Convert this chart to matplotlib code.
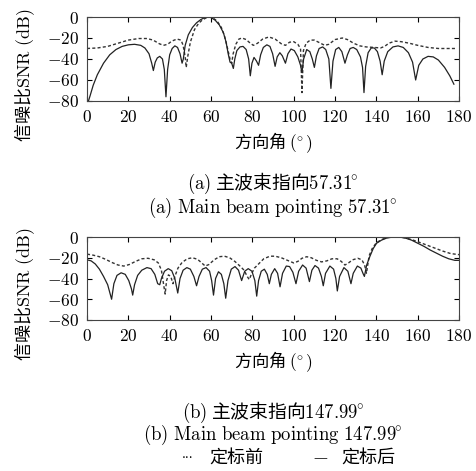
import matplotlib
matplotlib.use("Agg")
import matplotlib.pyplot as plt
from matplotlib.ticker import FuncFormatter

plt.rcParams.update({"font.family": ["DejaVu Serif", "Noto Sans CJK SC"],
                     "mathtext.fontset": "cm", "font.size": 11,
                     "xtick.direction": "in", "ytick.direction": "in",
                     "xtick.top": True, "ytick.right": True,
                     "xtick.major.size": 3.5, "ytick.major.size": 3.5,
                     "axes.linewidth": 0.8})
CJK = "Noto Sans CJK SC"

# ---- (a) main beam 57.31 deg: after calibration (solid) / before (dashed)
a_after_x = [0.7, 1.5, 3, 5, 8, 11, 14, 17, 20, 23, 26, 28, 30, 31.3, 32.1, 33, 34, 35.2, 36.5,
             37.4, 38.2, 39, 40, 41.2, 42.5, 43.8, 45, 46, 46.6, 47.5, 49, 51, 53, 55, 57, 58.5,
             60, 62, 64, 66, 67.3, 68.3, 69.2, 70, 70.8, 71.5, 72.5, 74, 75.5, 77, 78.2, 79, 79.8,
             80.8, 82, 83, 84, 85.3, 87, 88.5, 89.8, 91, 92, 93.3, 94.5, 96, 97.2, 98.7, 100.3,
             102, 103.3, 104, 104.8, 106.3, 107.8, 109, 110, 111, 112.3, 114, 115.5, 117, 118,
             119, 120.3, 121.8, 123.3, 124.8, 126, 127.3, 128.8, 130.5, 132.3, 133.3, 134, 134.8,
             136, 137.5, 139, 140.5, 141.8, 142.8, 143.8, 145.5, 148, 150.5, 153, 155.5, 157.5,
             159, 160.5, 162.5, 165, 167.5, 170, 173, 175.5, 177.5]
a_after_y = [-80, -75, -65, -55, -44, -36, -31, -28, -26.5, -26, -27, -29.5, -35, -44, -51, -43, -39,
             -37.5, -40, -50, -76, -50, -36, -30, -27.5, -29, -35, -44, -40, -27, -17, -10, -5.5,
             -2.5, -0.5, 0, -0.5, -3, -7.5, -15, -24, -35, -43, -44, -49, -40, -32, -28.5, -28,
             -31, -40, -56, -44, -38.5, -42, -46, -36, -29, -26.5, -28, -35, -47, -38, -34, -37,
             -44, -35, -30.5, -32, -38, -46, -53, -40, -31, -33, -40, -48, -37, -30, -28.5, -31,
             -40, -68, -42, -31, -29, -33, -44, -36, -30, -29, -31, -38, -48, -72, -47, -34,
             -29.5, -29.5, -33, -42, -55, -42, -33, -28.5, -27.5, -29, -34, -43, -60, -46, -40,
             -37.5, -38, -41, -48, -56, -64]
a_before_x = [0, 5, 10, 15, 20, 25, 29, 32, 35, 37, 39, 41, 43.5, 45.5, 46.5, 47.5, 48, 48.7, 50, 52,
              54, 56, 58, 59.5, 61, 63, 65, 66.5, 68, 69.3, 70, 70.7, 72, 73.5, 75, 77, 79, 80.5,
              82.5, 85, 88, 91, 94, 96, 98, 100, 102, 103.3, 104, 104.7, 106, 108, 110, 112, 115,
              117, 120, 123.5, 126, 129, 132, 135, 139, 142, 144, 146, 149, 152, 156, 160, 165,
              170, 175, 179]
a_before_y = [-30, -29.5, -28, -25, -22, -20.5, -20.5, -22, -25.5, -27, -26, -23, -21, -22, -27, -38,
              -48, -38, -24, -12, -6, -2.5, -0.5, 0, -1, -4, -10, -18, -30, -41, -44, -35, -26, -21,
              -20, -21.5, -25, -27, -25, -21, -19, -21, -25.5, -27, -24, -23.5, -26, -30, -72, -32,
              -25, -22, -22, -24, -27, -26, -21.5, -20, -21.5, -25, -27.5, -28.5, -29, -29.5, -28,
              -25, -23, -23.5, -25, -27, -29, -30, -30, -30]

# ---- (b) main beam 147.99 deg
b_after_x = [0, 2, 4, 6, 8, 10, 11.9, 13, 14.5, 16.5, 18.5, 20.2, 21.5, 22.1, 23, 24.5, 26.5, 29, 31,
             32.8, 34.2, 35.2, 36, 37.5, 39.3, 41, 42.5, 43.9, 45, 46.5, 48.3, 50, 51.7, 53, 54.2,
             55.8, 57.6, 59.3, 60.3, 61.2, 62.2, 63.6, 65, 66.2, 67.1, 68.2, 69.8, 71.6, 73.3, 74.8,
             76.3, 78, 79.8, 81.2, 82.1, 83, 84.3, 85.8, 87.2, 88.2, 89.2, 90.8, 92.2, 93.4, 94.6,
             96.4, 98, 99.6, 101.1, 102.4, 104.3, 106, 107.6, 108.8, 110.3, 112, 113.4, 114.3,
             115.4, 117.5, 119.3, 120.4, 121.1, 122.2, 124.3, 126.2, 127.7, 128.8, 130.8, 132.5,
             133.5, 134.2, 135.3, 136.9, 138.5, 140.1, 142.5, 145, 148, 151, 154, 157, 160, 163,
             166, 169, 172, 175, 178, 180]
b_after_y = [-22, -23, -26, -31, -38, -46, -60, -45, -37, -34.5, -36, -42, -50, -56, -46, -37, -32,
             -29.5, -30.5, -36, -45, -46, -40, -33, -30.5, -32.5, -40, -54, -40, -32, -29.5, -31,
             -38, -47, -38, -31, -29.5, -33, -42, -56, -40, -33.5, -36, -45, -59, -42, -31, -28.5,
             -32, -42, -33, -30.5, -33, -42, -57, -42, -33, -31, -36, -45, -36, -30.5, -35, -48,
             -35, -28, -28.5, -34, -45, -33, -27, -30, -43, -32, -27.5, -30, -38, -47, -35, -28,
             -31, -40, -52, -38, -29.5, -33, -45, -35, -28, -30, -35, -38, -27, -18.5, -11, -6,
             -3, -1, 0, 0, -1, -3, -6, -9, -12.5, -15.5, -18.5, -21, -22.5, -22.5]
b_before_x = [0, 3, 6, 9, 12, 15, 17.8, 20.5, 23.5, 26.5, 29.5, 32.5, 34.5, 36, 37, 37.8, 38.5, 39.4,
              40.5, 41.6, 42.5, 44, 46, 48.5, 51, 53.5, 55.5, 57.2, 59, 61.5, 64, 66.5, 69, 71.5,
              74, 76, 77.5, 78.5, 79.5, 81, 83, 85.5, 88.5, 91, 94, 97, 100, 102, 104, 106.3, 108.5,
              111, 113.5, 116, 118.5, 121, 123, 124.8, 126.5, 128.5, 131, 133, 134.3, 135.2, 136.5,
              138, 140, 142.5, 145, 148, 151, 154, 157, 160, 164, 168, 172, 176, 180]
b_before_y = [-16.5, -17.5, -19, -21.5, -24.5, -27, -28, -26.5, -23.5, -21, -20.5, -22, -25, -32, -45,
              -55, -42, -36.5, -38, -45, -38, -30, -24.5, -21, -20, -21.5, -25, -28, -26.5, -22,
              -19, -18.5, -20, -23.5, -28, -32, -38, -41, -36, -30, -26, -21, -18.5, -18.5, -20,
              -22.5, -25, -23.5, -20.5, -19, -20, -22.5, -24, -23, -21, -21, -23.5, -27, -25, -22,
              -20.5, -22, -27, -35, -18, -11, -5.5, -2.5, -0.5, 0, 0, -0.8, -2.5, -4.5, -7.5,
              -10.5, -13.5, -16, -17]

x_ticks = list(range(0, 181, 20))
y_ticks = [0, -20, -40, -60, -80]
DEG = "^{\\!\\!\\circ}"


def draw(ax, after_x, after_y, before_x, before_y):
    ax.plot(before_x, before_y, color="#333333", lw=1.0, ls=(0, (2.2, 1.6)))
    ax.plot(after_x, after_y, color="#222222", lw=0.9)
    ax.set_xlim(0, 180)
    ax.set_ylim(-80, 0)
    ax.set_xticks(x_ticks)
    ax.set_yticks(y_ticks)
    ax.xaxis.set_major_formatter(FuncFormatter(lambda v, p: r"$%d$" % v))
    ax.yaxis.set_major_formatter(FuncFormatter(lambda v, p: r"$%d$" % v))
    ax.tick_params(labelsize=12.5, pad=6)
    for s in ax.spines.values():
        s.set_color("#444444")
    ax.set_xlabel("方向角 $(" + DEG + ")$", fontsize=12.5, labelpad=3, family=CJK)
    ax.set_ylabel("信噪比$\\mathrm{SNR\\ (dB)}$", fontsize=13, family=CJK)
    ax.yaxis.set_label_coords(-0.135, 0.31)


fig = plt.figure(figsize=(4.77, 4.71), dpi=100)
ax1 = fig.add_axes([0.1824, 0.7856, 0.780, 0.1783])
ax2 = fig.add_axes([0.1824, 0.3206, 0.780, 0.1762])
draw(ax1, a_after_x, a_after_y, a_before_x, a_before_y)
draw(ax2, b_after_x, b_after_y, b_before_x, b_before_y)

cx = 0.5724
fig.text(cx, 1 - 183 / 471, "$\\mathrm{(a)}$ 主波束指向$57.31" + DEG + "$", ha="center",
         va="center", fontsize=13.5, family=CJK)
fig.text(cx, 1 - 208 / 471, "$\\mathrm{(a)\\ Main\\ beam\\ pointing\\ 57.31}" + DEG + "$",
         ha="center", va="center", fontsize=13.5)
fig.text(cx, 1 - 412 / 471, "$\\mathrm{(b)}$ 主波束指向$147.99" + DEG + "$", ha="center",
         va="center", fontsize=13.5, family=CJK)
fig.text(cx, 1 - 435 / 471, "$\\mathrm{(b)\\ Main\\ beam\\ pointing\\ 147.99}" + DEG + "$",
         ha="center", va="center", fontsize=13.5)
fig.text(188 / 477, 1 - 458 / 471, "···", ha="center", va="center", fontsize=9)
fig.text(236 / 477, 1 - 458 / 471, "定标前", ha="center", va="center", fontsize=13, family=CJK)
fig.text(320 / 477, 1 - 458 / 471, "—", ha="center", va="center", fontsize=10)
fig.text(368 / 477, 1 - 458 / 471, "定标后", ha="center", va="center", fontsize=13, family=CJK)

fig.savefig("out.png", dpi=100)
